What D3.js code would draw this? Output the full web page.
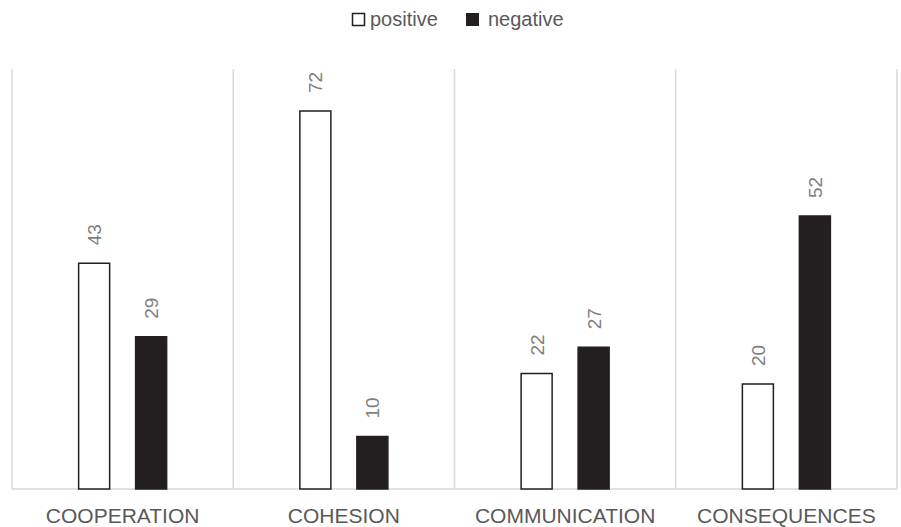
<!DOCTYPE html>
<html>
<head>
<meta charset="utf-8">
<script src="https://cdn.jsdelivr.net/npm/d3@7"></script>
<style>
  body { margin: 0; background: #fff; }
  text { font-family: "Liberation Sans", Arial, sans-serif; }
</style>
</head>
<body>
<svg width="901" height="527"></svg>
<script>
var categories = ["COOPERATION", "COHESION", "COMMUNICATION", "CONSEQUENCES"];
var seriesNames = ["positive", "negative"];
var positive = [43, 72, 22, 20];
var negative = [29, 10, 27, 52];
var yTicks = [0, 80];

var svg = d3.select("svg"),
  plotLeft = 12,
  plotRight = 897,
  plotTop = 69,
  plotBottom = 489;

var data = categories.map(function (c, i) {
  return { cat: c, values: [
    { key: "positive", value: positive[i] },
    { key: "negative", value: negative[i] }
  ] };
});

var x0 = d3.scaleBand().domain(categories).range([plotLeft, plotRight]).padding(0);
var x1 = d3.scaleBand().domain(seriesNames).range([0, 88]).paddingInner(0.456);
var y = d3.scaleLinear().domain([yTicks[0], yTicks[1]]).range([plotBottom, plotTop]);

// vertical separators
var bounds = categories.map(function (c) { return x0(c); }).concat([plotRight]);
svg.append("g")
  .selectAll("line")
  .data(bounds)
  .enter()
  .append("line")
  .attr("x1", function (d) { return d; })
  .attr("x2", function (d) { return d; })
  .attr("y1", plotTop)
  .attr("y2", plotBottom)
  .attr("stroke", "#d9d9d9")
  .attr("stroke-width", 1.5);

// baseline
svg.append("line")
  .attr("x1", plotLeft).attr("x2", plotRight)
  .attr("y1", plotBottom).attr("y2", plotBottom)
  .attr("stroke", "#d9d9d9")
  .attr("stroke-width", 1.5);

var groups = svg.selectAll(".grp")
  .data(data)
  .enter()
  .append("g")
  .attr("class", "grp")
  .attr("transform", function (d) {
    return "translate(" + (x0(d.cat) + x0.bandwidth() / 2 - 44) + ",0)";
  });

groups.selectAll("rect")
  .data(function (d) { return d.values; })
  .enter()
  .append("rect")
  .attr("x", function (d) { return x1(d.key); })
  .attr("y", function (d) { return y(d.value); })
  .attr("width", x1.bandwidth())
  .attr("height", function (d) { return plotBottom - y(d.value); })
  .attr("fill", function (d) { return d.key == "positive" ? "#fff" : "#231f20"; })
  .attr("stroke", "#231f20")
  .attr("stroke-width", 1.5);

groups.selectAll(".lbl")
  .data(function (d) { return d.values; })
  .enter()
  .append("text")
  .attr("class", "lbl")
  .attr("transform", function (d) {
    var cx = x1(d.key) + x1.bandwidth() / 2;
    return "translate(" + (cx + 7) + "," + (y(d.value) - 18) + ") rotate(-90)";
  })
  .attr("font-size", "19px")
  .attr("fill", "#7f7f7f")
  .text(function (d) { return d.value; });

// category labels
svg.append("g")
  .selectAll("text")
  .data(categories)
  .enter()
  .append("text")
  .attr("x", function (d) { return x0(d) + x0.bandwidth() / 2; })
  .attr("y", 523)
  .attr("text-anchor", "middle")
  .attr("font-size", "21px")
  .attr("fill", "#595959")
  .text(function (d) { return d; });

// legend
var legend = svg.append("g");
legend.append("rect")
  .attr("x", 352.5).attr("y", 13.5).attr("width", 12).attr("height", 12)
  .attr("fill", "#fff").attr("stroke", "#231f20").attr("stroke-width", 1.5);
legend.append("text")
  .attr("x", 370).attr("y", 26)
  .attr("font-size", "20px").attr("fill", "#595959")
  .text(seriesNames[0]);
legend.append("rect")
  .attr("x", 466).attr("y", 13).attr("width", 13).attr("height", 13)
  .attr("fill", "#231f20");
legend.append("text")
  .attr("x", 488).attr("y", 26)
  .attr("font-size", "20px").attr("fill", "#595959")
  .text(seriesNames[1]);
</script>
</body>
</html>
